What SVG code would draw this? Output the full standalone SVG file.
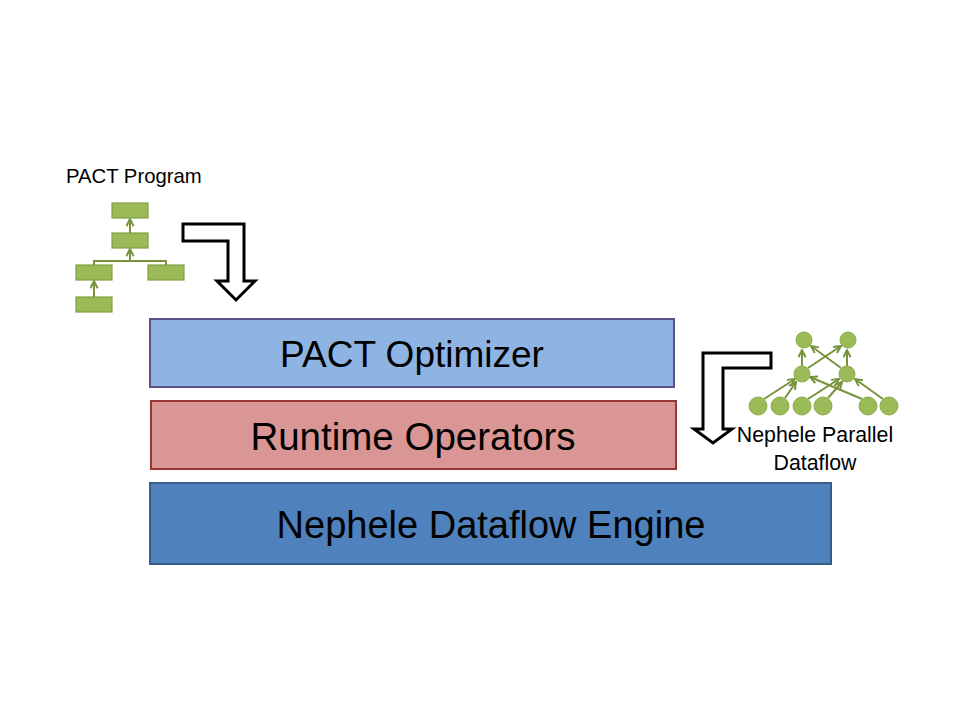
<svg xmlns="http://www.w3.org/2000/svg" width="960" height="720" viewBox="0 0 960 720">
<style>
  .lbl{font-family:"Liberation Sans",Arial,sans-serif;fill:#000}
  .big{font-size:37px;text-anchor:middle}
  .gbox{fill:#9BBB59;stroke:#7F9F45;stroke-width:1.2}
  .gcirc{fill:#9BBB59;stroke:#8CAD4E;stroke-width:1}
  .gline{fill:none;stroke:#77933C;stroke-width:2}
  .hollow{fill:#fff;stroke:#000;stroke-width:3;stroke-linejoin:miter}
</style>
<defs>
  <marker id="ga" viewBox="0 0 10 10" refX="9" refY="5" markerWidth="4.5" markerHeight="4.5" orient="auto" markerUnits="strokeWidth">
    <path d="M1,1 L9,5 L1,9" fill="none" stroke="#77933C" stroke-width="2.2"/>
  </marker>
</defs>
<rect width="960" height="720" fill="#fff"/>

<g id="pact-program">
  <text class="lbl" x="66" y="183" font-size="20.3">PACT Program</text>
  <rect class="gbox" x="112" y="203" width="36" height="15"/>
  <rect class="gbox" x="112" y="233" width="36" height="15"/>
  <rect class="gbox" x="76" y="265" width="36" height="15"/>
  <rect class="gbox" x="148" y="265" width="36" height="15"/>
  <rect class="gbox" x="76" y="297" width="36" height="15"/>
  <path class="gline" d="M94,265 V261 H166 V265"/>
  <path class="gline" d="M130,261 V249" marker-end="url(#ga)"/>
  <path class="gline" d="M130,233 V219" marker-end="url(#ga)"/>
  <path class="gline" d="M94,297 V281" marker-end="url(#ga)"/>
</g>

<g id="arrow-down-1">
  <path class="hollow" d="M183,224 L244,224 L244,281 L255,281 L236,300 L217,281 L228,281 L228,241 L183,241 Z"/>
</g>

<g id="pact-optimizer">
  <rect x="150" y="319" width="524" height="68" fill="#8EB4E3" stroke="#5F4F87" stroke-width="2"/>
  <text class="lbl big" x="412" y="367">PACT Optimizer</text>
</g>

<g id="runtime-operators">
  <rect x="151" y="401" width="525" height="68" fill="#D99694" stroke="#953735" stroke-width="2"/>
  <text class="lbl big" x="413" y="450" style="font-size:38.5px">Runtime Operators</text>
</g>

<g id="nephele-engine">
  <rect x="150" y="483" width="681" height="81" fill="#4F81BD" stroke="#385D8A" stroke-width="2"/>
  <text class="lbl big" x="491" y="538" style="font-size:38px">Nephele Dataflow Engine</text>
</g>

<g id="arrow-down-2">
  <path class="hollow" d="M771,353 L703,353 L703,429 L694,429 L713,443 L732,429 L723,429 L723,368 L771,368 Z"/>
</g>

<g id="nephele-parallel-dataflow">
  <g id="dataflow-edges">
    <path class="gline" d="M802,366 V350" marker-end="url(#ga)"/>
    <path class="gline" d="M847,366 V350" marker-end="url(#ga)"/>
    <path class="gline" d="M808,368 L841,346" marker-end="url(#ga)"/>
    <path class="gline" d="M841,368 L811,346" marker-end="url(#ga)"/>
    <path class="gline" d="M764,399 L795,379" marker-end="url(#ga)"/>
    <path class="gline" d="M785,398 L796,382" marker-end="url(#ga)"/>
    <path class="gline" d="M862,399 L810,377" marker-end="url(#ga)"/>
    <path class="gline" d="M808,399 L839,379" marker-end="url(#ga)"/>
    <path class="gline" d="M828,398 L842,382" marker-end="url(#ga)"/>
    <path class="gline" d="M883,399 L855,379" marker-end="url(#ga)"/>
  </g>
  <circle class="gcirc" cx="804" cy="340" r="8"/>
  <circle class="gcirc" cx="848" cy="340" r="8"/>
  <circle class="gcirc" cx="802" cy="374" r="8"/>
  <circle class="gcirc" cx="847" cy="374" r="8"/>
  <circle class="gcirc" cx="758" cy="406" r="9"/>
  <circle class="gcirc" cx="780" cy="406" r="9"/>
  <circle class="gcirc" cx="802" cy="406" r="9"/>
  <circle class="gcirc" cx="823" cy="406" r="9"/>
  <circle class="gcirc" cx="868" cy="406" r="9"/>
  <circle class="gcirc" cx="889" cy="406" r="9"/>
  <text class="lbl" x="815" y="442" font-size="21.3" text-anchor="middle">Nephele Parallel</text>
  <text class="lbl" x="815" y="470" font-size="21.3" text-anchor="middle">Dataflow</text>
</g>
</svg>
